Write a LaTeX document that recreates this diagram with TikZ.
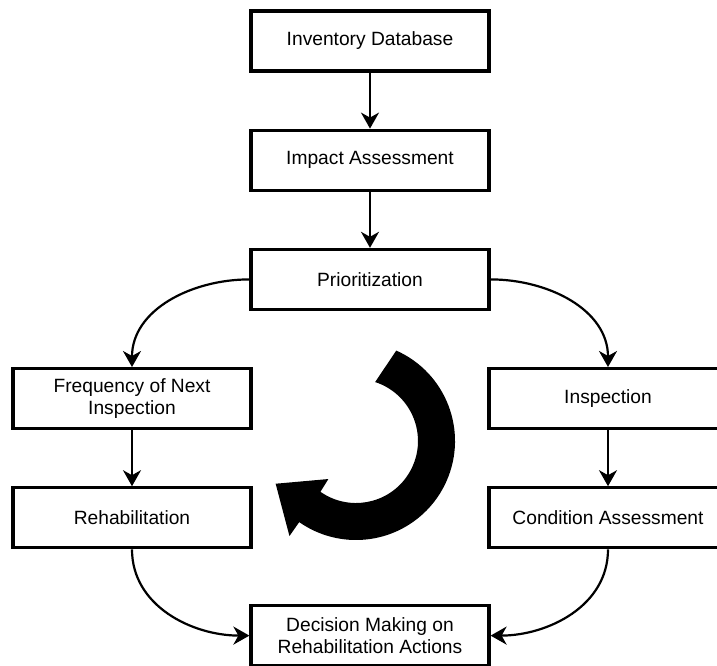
\documentclass[tikz,border=0pt]{standalone}
\usepackage{fontspec}
\setmainfont{Liberation Sans}
\usetikzlibrary{positioning, arrows.meta, calc}

\begin{document}
\begin{tikzpicture}[font=\fontsize{9.6}{11.2}\selectfont,
  >={Stealth[length=8pt, width=9pt, inset=2.5pt]},
  bx/.style={draw, line width=1.6pt, align=center, inner sep=2pt,
             minimum width=119pt, minimum height=30pt},
  s/.style={->, line width=1.1pt},
  turnarrow/.style={fill=black}]
\useasboundingbox (-185pt,20.5pt) rectangle (173.5pt,-312pt);
% Main chain (centre).
\node[bx] (inventory) at (0,0) {Inventory Database};
\node[bx,below=28pt of inventory] (impact) {Impact Assessment};
\node[bx,below=28pt of impact] (prior) {Prioritization};
% Left branch.
\node[bx,below=28pt of prior,xshift=-119pt] (freq) {Frequency of Next\\Inspection};
\node[bx,below=28pt of freq] (rehab) {Rehabilitation};
% Right branch.
\node[bx,below=28pt of prior,xshift=119pt] (insp) {Inspection};
\node[bx,below=28pt of insp] (cond) {Condition Assessment};
% Where both branches meet.
\node[bx,below=146.5pt of prior] (decision) {Decision Making on\\Rehabilitation Actions};
\draw[s] (inventory)--(impact); \draw[s] (impact)--(prior);
\draw[s] (prior.west) to[out=180, in=90] (freq.north);
\draw[s] (prior.east) to[out=0, in=90] (insp.north);
\draw[s] (freq)--(rehab); \draw[s] (insp)--(cond);
\draw[s] (rehab.south) to[out=-90, in=180] (decision.west);
\draw[s] (cond.south) to[out=-90, in=0] (decision.east);
% The big turning arrow in the middle.
\coordinate (turn) at (-7pt,-200pt);
\fill[turnarrow, shift={(turn)}] (66:49.5pt) arc[start angle=66, end angle=-125, radius=49.5pt]
  -- (235:58pt) -- (208:45.5pt) -- (234:23.5pt) -- (235:31pt)
  arc[start angle=-125, end angle=72, radius=31pt] -- cycle;
\end{tikzpicture}
\end{document}
